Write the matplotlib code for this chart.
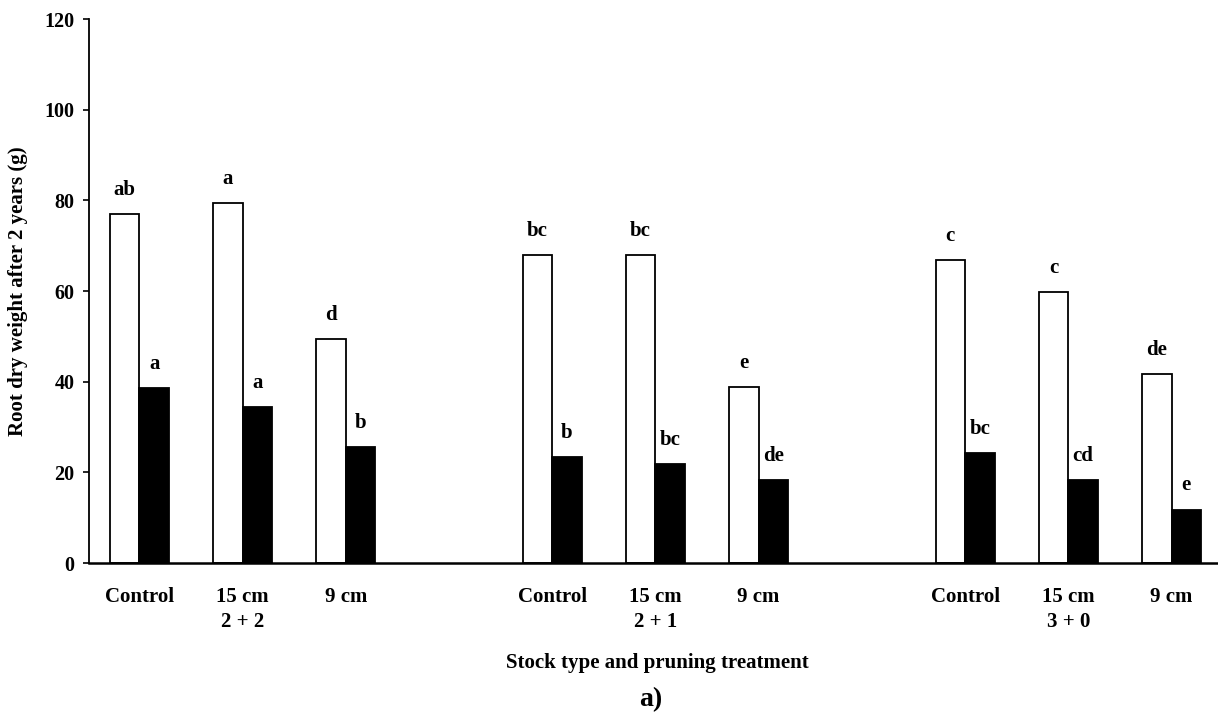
import numpy as np
import matplotlib.pyplot as plt

# Data
treatments = ["Control", "15 cm", "9 cm"]
stock_types = ["2 + 2", "2 + 1", "3 + 0"]
open_vals = [77.0, 79.5, 49.5, 68.0, 68.0, 38.8, 66.8, 59.7, 41.7]
filled_vals = [38.6, 34.5, 25.5, 23.4, 21.8, 18.4, 24.3, 18.4, 11.8]
open_letters = ["ab", "a", "d", "bc", "bc", "e", "c", "c", "de"]
filled_letters = ["a", "a", "b", "b", "bc", "de", "bc", "cd", "e"]

plt.rcParams["font.family"] = ["Liberation Serif", "DejaVu Serif"]
plt.rcParams["font.weight"] = "bold"

# pair positions: 3 per stock type, one empty slot between groups
pos = np.array([g * 4 + i for g in range(3) for i in range(3)], dtype=float)
w = 0.286

fig = plt.figure(figsize=(12.18, 7.21), dpi=100)
ax = fig.add_axes([0.0731, 0.2191, 0.9269, 0.7545])

ax.bar(pos - w / 2, open_vals, w, color="white", edgecolor="black", linewidth=1.3)
ax.bar(pos + w / 2, filled_vals, w, color="black", edgecolor="black", linewidth=1.3)

for x, v, t in zip(pos - w / 2, open_vals, open_letters):
    ax.text(x, v + 4.2, t, ha="center", va="baseline", fontsize=15, fontweight="bold")
for x, v, t in zip(pos + w / 2, filled_vals, filled_letters):
    ax.text(x, v + 4.2, t, ha="center", va="baseline", fontsize=15, fontweight="bold")

labels = []
for g in range(3):
    for i, t in enumerate(treatments):
        labels.append(t + "\n" + stock_types[g] if i == 1 else t)
ax.set_xticks(pos)
ax.set_xticklabels(labels, fontsize=15, fontweight="bold", linespacing=1.35, va="top")
ax.tick_params(axis="x", length=0, pad=17)

ax.set_ylim(0, 120)
ax.set_xlim(-0.487, 10.45)
ax.set_yticks(np.arange(0, 121, 20))
ax.tick_params(axis="y", direction="out", length=4.5, width=1.2, pad=6, labelsize=14.5)
for lbl in ax.get_yticklabels():
    lbl.set_fontweight("bold")

for s in ["top", "right"]:
    ax.spines[s].set_visible(False)
ax.spines["left"].set_linewidth(1.3)
ax.spines["bottom"].set_linewidth(1.8)

ax.set_ylabel("Root dry weight after 2 years (g)", fontsize=15, fontweight="bold")
ax.yaxis.set_label_coords(-0.054, 0.5)
ax.set_xlabel("Stock type and pruning treatment", fontsize=15, fontweight="bold")
ax.xaxis.label.set_va("center")
ax.xaxis.set_label_coords(0.503, -0.184)

fig.text(0.534, 0.029, "a)", ha="center", va="center", fontsize=20, fontweight="bold")

fig.savefig("out.png", dpi=100)
